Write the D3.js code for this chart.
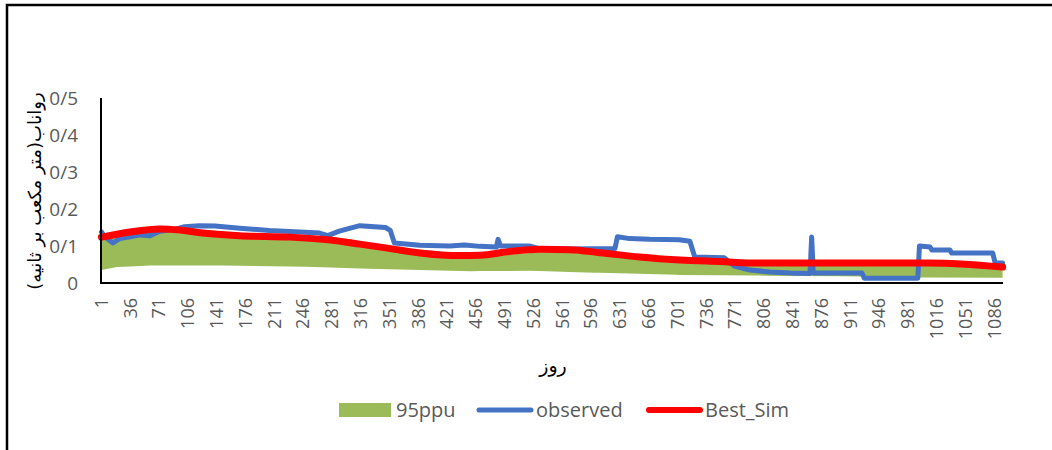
<!DOCTYPE html>
<html>
<head>
<meta charset="utf-8">
<script src="https://cdn.jsdelivr.net/npm/d3@7"></script>
<style>
  body { margin: 0; background: #fff; }
  svg { display: block; }
</style>
</head>
<body>
<svg id="chart" width="1052" height="450"></svg>
<script>
// days 1..1096, key points: [day, value]
var nDays = 1096;
var tickDays = d3.range(1, 1097, 35);
var yTicks = [0, 0.1, 0.2, 0.3, 0.4, 0.5];

var ppuLower = [[1,0.035],[20,0.043],[60,0.047],[150,0.047],[250,0.044],[350,0.037],[450,0.032],
  [520,0.033],[600,0.028],[700,0.022],[800,0.02],[900,0.018],[1000,0.015],[1096,0.014]];
var ppuUpper = [[1,0.116],[36,0.13],[72,0.138],[121,0.131],[169,0.121],[230,0.117],[279,0.109],
  [315,0.098],[352,0.086],[388,0.075],[437,0.067],[461,0.068],[497,0.077],[534,0.083],[570,0.082],
  [607,0.075],[655,0.063],[704,0.055],[752,0.051],[801,0.048],[900,0.047],[1008,0.047],[1096,0.037]];

var observed = [[1,0.138],[5,0.125],[15,0.108],[23,0.12],[36,0.125],[48,0.13],[60,0.128],[72,0.14],
  [90,0.145],[102,0.152],[120,0.155],[139,0.154],[169,0.148],[205,0.142],[242,0.138],[266,0.135],
  [276,0.128],[290,0.14],[315,0.155],[333,0.152],[346,0.15],[352,0.142],[357,0.108],[388,0.102],
  [424,0.1],[442,0.103],[461,0.099],[481,0.097],[483,0.118],[486,0.1],[521,0.1],[533,0.093],
  [570,0.092],[625,0.093],[628,0.125],[643,0.12],[667,0.118],[703,0.117],[716,0.113],[722,0.07],
  [758,0.068],[770,0.046],[789,0.035],[813,0.03],[838,0.027],[862,0.026],[864,0.124],[866,0.027],
  [925,0.027],[928,0.013],[993,0.013],[995,0.1],[1008,0.097],[1010,0.089],[1032,0.089],[1034,0.081],
  [1084,0.081],[1087,0.054],[1096,0.054]];

var bestSim = [[1,0.124],[36,0.138],[72,0.146],[96,0.143],[121,0.136],[169,0.128],[230,0.124],
  [279,0.116],[315,0.105],[352,0.093],[388,0.081],[437,0.074],[461,0.075],[497,0.085],[534,0.091],
  [570,0.09],[607,0.082],[655,0.07],[704,0.062],[752,0.058],[801,0.054],[874,0.054],[1008,0.054],
  [1096,0.043]];

var svg = d3.select("#chart");

var x = d3.scaleLinear().domain([0.5, nDays + 0.5]).range([101, 1003]);
var y = d3.scaleLinear().domain([0, 0.5]).range([283, 98]);

// outer frame (top and left only visible)
svg.append("path")
    .attr("d", "M7,450V5H1052")
    .attr("fill", "none")
    .attr("stroke", "#000")
    .attr("stroke-width", 2.5);

// band
var lowerFn = d3.scaleLinear().domain(ppuLower.map(function (d) { return d[0]; }))
    .range(ppuLower.map(function (d) { return d[1]; }));
var upperFn = d3.scaleLinear().domain(ppuUpper.map(function (d) { return d[0]; }))
    .range(ppuUpper.map(function (d) { return d[1]; }));
var bandDays = d3.union(ppuLower.map(function (d) { return d[0]; }), ppuUpper.map(function (d) { return d[0]; }));
var bandPts = Array.from(bandDays).sort(d3.ascending)
    .map(function (d) { return [d, upperFn(d), lowerFn(d)]; });

svg.append("path")
    .datum(bandPts)
    .attr("fill", "#9BBB59")
    .attr("d", d3.area()
        .x(function (d) { return x(d[0]); })
        .y0(function (d) { return y(d[2]); })
        .y1(function (d) { return y(d[1]); }));

svg.append("path")
    .datum(observed)
    .attr("fill", "none")
    .attr("stroke", "#4472C4")
    .attr("stroke-width", 5)
    .attr("stroke-linejoin", "round")
    .attr("stroke-linecap", "round")
    .attr("d", d3.line()
        .x(function (d) { return x(d[0]); })
        .y(function (d) { return y(d[1]); }));

svg.append("path")
    .datum(bestSim)
    .attr("fill", "none")
    .attr("stroke", "#FF0000")
    .attr("stroke-width", 7)
    .attr("stroke-linejoin", "round")
    .attr("stroke-linecap", "round")
    .attr("d", d3.line()
        .curve(d3.curveMonotoneX)
        .x(function (d) { return x(d[0]); })
        .y(function (d) { return y(d[1]); }));

// axes lines
svg.append("line")
    .attr("x1", 101).attr("x2", 101).attr("y1", y(0.5)).attr("y2", y(0) + 1)
    .attr("stroke", "#000").attr("stroke-width", 2);
svg.append("line")
    .attr("x1", 100).attr("x2", 1003).attr("y1", y(0)).attr("y2", y(0))
    .attr("stroke", "#000").attr("stroke-width", 2);

// y tick labels
svg.append("g")
    .selectAll("text")
    .data(yTicks)
    .enter().append("text")
    .attr("x", 78)
    .attr("y", function (d) { return y(d); })
    .attr("dy", "0.35em")
    .attr("text-anchor", "end")
    .attr("fill", "#595959")
    .style("font-family", "'Open Sans', sans-serif")
    .style("font-size", "19px")
    .text(function (d) { return d === 0 ? "0" : d3.format(".1f")(d).replace(".", "/"); });

// x tick labels
svg.append("g")
    .selectAll("text")
    .data(tickDays)
    .enter().append("text")
    .attr("transform", function (d) { return "translate(" + x(d) + ",298) rotate(-90)"; })
    .attr("dy", "0.35em")
    .attr("text-anchor", "end")
    .attr("fill", "#595959")
    .style("font-family", "'Open Sans', sans-serif")
    .style("font-size", "18px")
    .text(function (d) { return d; });

// axis titles
svg.append("text")
    .attr("x", 553).attr("y", 372)
    .attr("text-anchor", "middle")
    .attr("fill", "#000")
    .style("font-family", "'DejaVu Sans', sans-serif")
    .style("font-size", "19px")
    .text("روز");

svg.append("text")
    .attr("transform", "translate(41,191) rotate(-90)")
    .attr("text-anchor", "middle")
    .attr("fill", "#000")
    .style("font-family", "'DejaVu Sans', sans-serif")
    .style("font-size", "18px")
    .text("رواناب(متر مکعب بر ثانیه)");

// legend
var legend = svg.append("g");
legend.append("rect")
    .attr("x", 339).attr("y", 403).attr("width", 52).attr("height", 14)
    .attr("fill", "#9BBB59");
legend.append("line")
    .attr("x1", 479).attr("x2", 531).attr("y1", 410).attr("y2", 410)
    .attr("stroke", "#4472C4").attr("stroke-width", 5).attr("stroke-linecap", "round");
legend.append("line")
    .attr("x1", 649).attr("x2", 700).attr("y1", 410).attr("y2", 410)
    .attr("stroke", "#FF0000").attr("stroke-width", 6).attr("stroke-linecap", "round");
var legendText = [["95ppu", 396], ["observed", 536], ["Best_Sim", 705]];
legend.selectAll("text.lg")
    .data(legendText)
    .enter().append("text")
    .attr("class", "lg")
    .attr("x", function (d) { return d[1]; })
    .attr("y", 410)
    .attr("dy", "0.35em")
    .attr("fill", "#595959")
    .style("font-family", "'Open Sans', sans-serif")
    .style("font-size", "20px")
    .text(function (d) { return d[0]; });
</script>
</body>
</html>
